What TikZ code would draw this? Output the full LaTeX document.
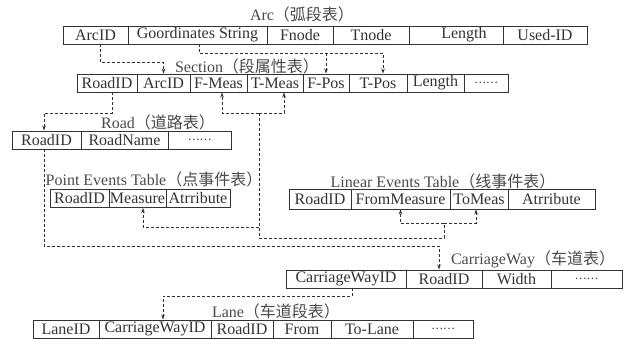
\documentclass[tikz,border=0pt]{standalone}
\usepackage{fontspec}
\setmainfont{Liberation Serif}
\newfontfamily\cjk{Noto Sans CJK SC}
\usetikzlibrary{arrows.meta}
\definecolor{ink}{HTML}{333333}
\definecolor{tink}{HTML}{4A4A4A}
\newcommand{\dotsfill}{{\cjk\fontsize{11}{11}\selectfont ……}}
\tikzset{
  cell/.style={draw=ink, line width=0.9pt, inner sep=0pt, minimum height=18pt, text=ink, font=\fontsize{16}{16}\selectfont},
  ttl/.style={inner sep=0pt, text=tink, font=\fontsize{16}{16}\selectfont},
  conn/.style={draw=ink, line width=0.8pt, densely dashed, -{Stealth[length=5pt,width=3.5pt]}},
  connp/.style={draw=ink, line width=0.8pt, densely dashed}
}
\begin{document}
\begin{tikzpicture}[x=1pt,y=-1pt]
\useasboundingbox[fill=white] (0,0) rectangle (628,339);

% Arc
\node[ttl] (tarc) at (302,14) {Arc{\cjk（弧段表）}};
\node[cell, minimum width=65pt] (arcid) at (95.5,35) {ArcID};
\node[cell, minimum width=139pt] (goord) at (197.5,35) {Goordinates String};
\node[cell, minimum width=66pt] (fnode) at (300,35) {Fnode};
\node[cell, minimum width=76pt] (tnode) at (371,35) {Tnode};
\node[cell, minimum width=94pt] (alen) at (456,35) {\hspace{16pt}Length};
\node[cell, minimum width=84pt] (usedid) at (545,35) {Used-ID};

% Section
\node[ttl] (tsec) at (247,66) {Section{\cjk（段属性表）}};
\node[cell, minimum width=60pt] (sroad) at (107,83) {RoadID};
\node[cell, minimum width=53pt] (sarc) at (163.5,83) {ArcID};
\node[cell, minimum width=57pt] (sfmeas) at (218.5,83) {F-Meas};
\node[cell, minimum width=56pt] (stmeas) at (275,83) {T-Meas};
\node[cell, minimum width=46pt] (sfpos) at (326,83) {F-Pos};
\node[cell, minimum width=58pt] (stpos) at (378,83) {T-Pos};
\node[cell, minimum width=57pt] (slen) at (435.5,83) {Length};
\node[cell, minimum width=44pt] (sdots) at (486,83) {\dotsfill};

% Road
\node[ttl] (troad) at (158,122) {Road{\cjk（道路表）}};
\node[cell, minimum width=69pt] (rroad) at (46.5,140) {RoadID};
\node[cell, minimum width=87pt] (rname) at (124.5,140) {RoadName};
\node[cell, minimum width=63pt] (rdots) at (199.5,140) {\dotsfill};

% Point events
\node[ttl] (tpoint) at (154,179) {Point Events Table{\cjk（点事件表）}};
\node[cell, minimum width=59pt] (proad) at (79.5,198.5) {RoadID};
\node[cell, minimum width=57pt] (pmeas) at (137.5,198.5) {Measure};
\node[cell, minimum width=64pt] (pattr) at (198,198.5) {Atrribute};

% Linear events
\node[ttl] (tlin) at (443,181) {Linear Events Table{\cjk（线事件表）}};
\node[cell, minimum width=62pt, minimum height=20pt] (lroad) at (320,199) {RoadID};
\node[cell, minimum width=99pt, minimum height=20pt] (lfrom) at (400.5,199) {FromMeasure};
\node[cell, minimum width=58pt, minimum height=20pt] (lto) at (479,199) {ToMeas};
\node[cell, minimum width=87pt, minimum height=20pt] (lattr) at (551.5,199) {Atrribute};

% CarriageWay
\node[ttl] (tcw) at (533,259) {CarriageWay{\cjk（车道表）}};
\node[cell, minimum width=120pt] (cwid) at (346,279) {CarriageWayID};
\node[cell, minimum width=76pt] (croad) at (444,279) {RoadID};
\node[cell, minimum width=69pt] (cwidth) at (516.5,279) {Width};
\node[cell, minimum width=71pt] (cdots) at (586.5,279) {\dotsfill};

% Lane
\node[ttl] (tlane) at (276,311) {Lane{\cjk（车道段表）}};
\node[cell, minimum width=66pt] (laneid) at (66,329) {LaneID};
\node[cell, minimum width=112pt] (lcw) at (155,329) {CarriageWayID};
\node[cell, minimum width=62pt] (lroad2) at (242,329) {RoadID};
\node[cell, minimum width=58pt] (lfromc) at (302,329) {From};
\node[cell, minimum width=82pt] (ltolane) at (372,329) {To-Lane};
\node[cell, minimum width=60pt] (ldots) at (443,329) {\dotsfill};

% Connectors
\draw[conn] ([xshift=4.5pt]arcid.south) -- ++(0,18) -| (sarc.north);
\draw[conn] ([xshift=1.5pt]goord.south) -- ++(0,9) -| ([xshift=5pt]stpos.north);
\coordinate (g1) at (326,53);
\draw[conn] (g1) -- (sfpos.north);

\draw[conn] ([xshift=5pt]sroad.south) -- ++(0,21) -| ([xshift=-2.5pt]rroad.north);

\coordinate (m1) at (259,113);
\coordinate (m2) at (259,238);
\coordinate (m3) at (444,238);
\coordinate (m4) at (444,223);
\coordinate (m5) at (259,227);
\draw[conn] (m1) -| ([xshift=3.5pt]sfmeas.south);
\draw[conn] (m1) -| ([xshift=9pt]stmeas.south);
\draw[connp] (m1) -- (m2) -- (m3) -- (m4);
\draw[conn] (m4) -| (lfrom.south);
\draw[conn] (m4) -| ([xshift=-3pt]lto.south);
\draw[conn] (m5) -| ([xshift=5.5pt]pmeas.south);

\draw[conn] ([xshift=-2.5pt]rroad.south) -- ++(0,97) -| ([xshift=-5pt]croad.north);
\draw[conn] ([xshift=6pt]cwid.south) -- ++(0,8) -| ([xshift=8pt]lcw.north);
\end{tikzpicture}
\end{document}
